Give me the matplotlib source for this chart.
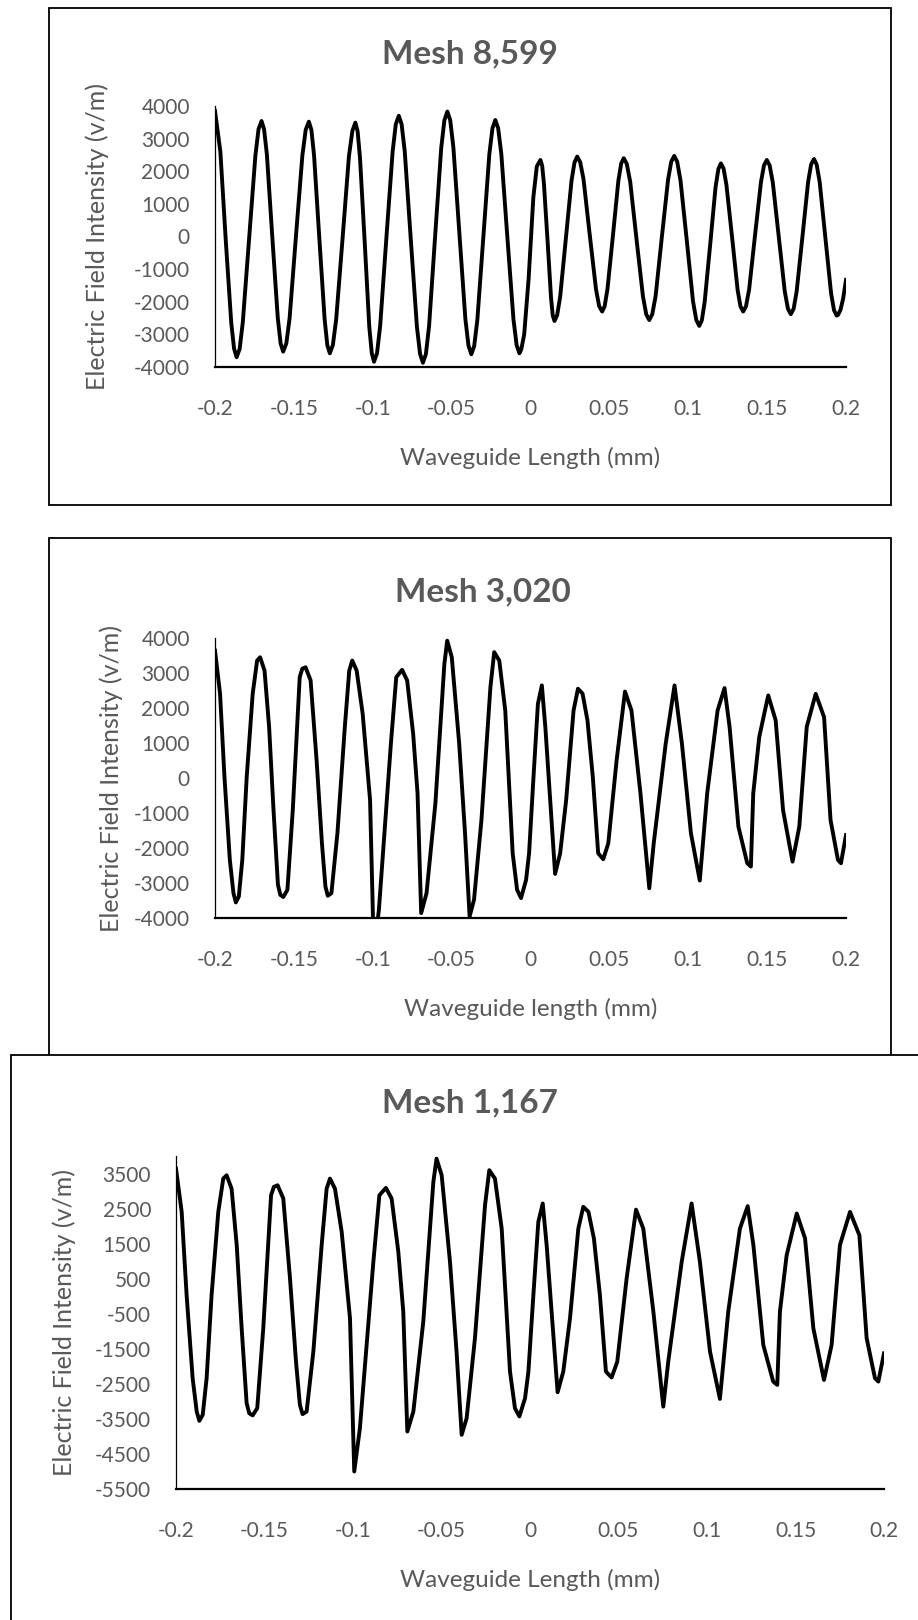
import matplotlib
matplotlib.use('Agg')
import matplotlib.pyplot as plt
from matplotlib.patches import Rectangle

# data (x in mm, field in v/m)
mesh_8599_x = [-0.2, -0.1966, -0.1932, -0.1897, -0.1879, -0.1863,
               -0.1844, -0.1824, -0.1784, -0.1744, -0.1724, -0.1705,
               -0.1689, -0.1671, -0.1637, -0.1602, -0.1584, -0.1568,
               -0.1548, -0.1527, -0.1487, -0.1446, -0.1425, -0.1405,
               -0.1389, -0.1372, -0.1339, -0.1305, -0.1288, -0.1272,
               -0.1253, -0.1232, -0.1191, -0.1151, -0.1129, -0.1110,
               -0.1096, -0.1081, -0.1051, -0.1022, -0.1006, -0.0992,
               -0.0973, -0.0953, -0.0914, -0.0874, -0.0854, -0.0835,
               -0.0817, -0.0797, -0.0759, -0.0720, -0.0700, -0.0682,
               -0.0663, -0.0643, -0.0605, -0.0566, -0.0546, -0.0527,
               -0.0509, -0.0489, -0.0451, -0.0413, -0.0393, -0.0375,
               -0.0357, -0.0337, -0.0299, -0.0261, -0.0241, -0.0223,
               -0.0205, -0.0185, -0.0147, -0.0108, -0.0088, -0.0070,
               -0.0058, -0.0040, -0.0012, 0.0018, 0.0040, 0.0063,
               0.0074, 0.0085, 0.0108, 0.0130, 0.0141, 0.0152,
               0.0169, 0.0188, 0.0224, 0.0260, 0.0279, 0.0296,
               0.0315, 0.0336, 0.0375, 0.0415, 0.0435, 0.0454,
               0.0470, 0.0488, 0.0523, 0.0557, 0.0575, 0.0591,
               0.0610, 0.0632, 0.0672, 0.0713, 0.0734, 0.0753,
               0.0772, 0.0793, 0.0832, 0.0872, 0.0892, 0.0911,
               0.0930, 0.0951, 0.0991, 0.1030, 0.1051, 0.1070,
               0.1086, 0.1104, 0.1139, 0.1173, 0.1191, 0.1207,
               0.1224, 0.1242, 0.1278, 0.1313, 0.1331, 0.1348,
               0.1366, 0.1386, 0.1423, 0.1461, 0.1480, 0.1498,
               0.1516, 0.1536, 0.1574, 0.1612, 0.1632, 0.1650,
               0.1668, 0.1687, 0.1724, 0.1760, 0.1779, 0.1797,
               0.1814, 0.1833, 0.1869, 0.1905, 0.1924, 0.1941,
               0.1950, 0.1965, 0.1982, 0.2]
mesh_8599_y = [3850, 2600, -100, -2650, -3440, -3700,
               -3450, -2640, -80, 2480, 3290, 3540,
               3290, 2510, 0, -2500, -3280, -3530,
               -3280, -2500, 0, 2490, 3270, 3520,
               3270, 2480, -30, -2540, -3330, -3580,
               -3330, -2550, -40, 2460, 3240, 3490,
               3230, 2420, -170, -2770, -3580, -3840,
               -3580, -2740, -70, 2600, 3440, 3700,
               3440, 2600, -80, -2770, -3600, -3870,
               -3600, -2750, -20, 2710, 3560, 3830,
               3570, 2740, 110, -2520, -3350, -3610,
               -3360, -2560, -20, 2520, 3320, 3570,
               3320, 2530, 0, -2540, -3330, -3580,
               -3450, -3000, -1300, 1200, 2150, 2345,
               2170, 1625, -120, -1870, -2420, -2590,
               -2410, -1850, -70, 1710, 2270, 2450,
               2280, 1760, 75, -1610, -2130, -2300,
               -2140, -1610, 50, 1710, 2240, 2400,
               2230, 1680, -80, -1840, -2390, -2560,
               -2380, -1830, -45, 1740, 2290, 2470,
               2290, 1710, -135, -1980, -2560, -2740,
               -2570, -2010, -250, 1510, 2070, 2240,
               2080, 1580, -30, -1640, -2140, -2300,
               -2140, -1620, 25, 1670, 2180, 2345,
               2180, 1655, -20, -1690, -2215, -2380,
               -2215, -1690, 0, 1680, 2210, 2375,
               2205, 1675, -25, -1725, -2260, -2425,
               -2400, -2250, -1900, -1330]

mesh_3020_x = [-0.2, -0.1968, -0.1940, -0.1906, -0.1883, -0.1868, -0.1849, -0.1827, -0.1799, -0.1761,
               -0.1733, -0.1714, -0.1686, -0.1657, -0.1629, -0.1601, -0.1586, -0.1567, -0.1541, -0.1507,
               -0.1463, -0.1447, -0.1426, -0.1394, -0.1356, -0.1322, -0.1300, -0.1285, -0.1262, -0.1224,
               -0.1177, -0.1149, -0.1130, -0.1102, -0.1064, -0.1017, -0.0993, -0.0961, -0.0923, -0.0885,
               -0.0851, -0.0814, -0.0782, -0.0744, -0.0716, -0.0693, -0.0659, -0.0603, -0.0546, -0.0528,
               -0.0499, -0.0452, -0.0415, -0.0386, -0.0358, -0.0311, -0.0254, -0.0230, -0.0198, -0.0160,
               -0.0113, -0.0085, -0.0060, -0.0028, -0.0009, 0.0019, 0.0047, 0.0072, 0.0094, 0.0122,
               0.0156, 0.0188, 0.0226, 0.0273, 0.0301, 0.0330, 0.0361, 0.0395, 0.0429, 0.0461,
               0.0493, 0.0546, 0.0599, 0.0640, 0.0697, 0.0753, 0.0781, 0.0857, 0.0913, 0.0960,
               0.1017, 0.1073, 0.1120, 0.1186, 0.1230, 0.1262, 0.1318, 0.1374, 0.1397, 0.1412,
               0.1450, 0.1507, 0.1554, 0.1601, 0.1661, 0.1704, 0.1751, 0.1808, 0.1861, 0.1902,
               0.1949, 0.1968, 0.2]
mesh_3020_y = [3640, 2410, 30, -2340, -3290, -3555, -3385, -2340, 30, 2410,
               3355, 3450, 3070, 1460, -920, -3050, -3340, -3400, -3195, -920,
               2880, 3120, 3165, 2790, 510, -1870, -3100, -3365, -3290, -1580,
               1460, 3070, 3355, 3070, 1840, -630, -5000, -3765, -1390, 980,
               2880, 3090, 2790, 1270, -440, -3860, -3290, -730, 3260, 3925,
               3450, 980, -1580, -3955, -3480, -1200, 2600, 3595, 3355, 1930,
               -2150, -3195, -3430, -2910, -2150, 30, 2120, 2645, 1460, -440,
               -2740, -2150, -630, 1930, 2550, 2410, 1650, 30, -2150, -2320,
               -1870, 510, 2470, 1930, -440, -3150, -1870, 980, 2645, 980,
               -1580, -2930, -440, 1930, 2570, 1460, -1390, -2435, -2530, -440,
               1170, 2360, 1650, -920, -2390, -1390, 1460, 2405, 1740, -1200,
               -2340, -2435, -1630]

# the 1,167 panel shows the same trace as the 3,020 panel in the source figure
mesh_1167_x = list(mesh_3020_x)
mesh_1167_y = list(mesh_3020_y)

x_ticks = [-0.2, -0.15, -0.1, -0.05, 0, 0.05, 0.1, 0.15, 0.2]
x_tick_labels = ['-0.2', '-0.15', '-0.1', '-0.05', '0', '0.05', '0.1', '0.15', '0.2']
y_ticks_a = [-4000, -3000, -2000, -1000, 0, 1000, 2000, 3000, 4000]
y_ticks_b = [-5500, -4500, -3500, -2500, -1500, -500, 500, 1500, 2500, 3500]

titles = ['Mesh 8,599', 'Mesh 3,020', 'Mesh 1,167']
x_labels = ['Waveguide Length (mm)', 'Waveguide length (mm)', 'Waveguide Length (mm)']
y_label = 'Electric Field Intensity (v/m)'

plt.rcParams['font.family'] = ['Lato', 'DejaVu Sans']
GREY = '#595959'
W, H = 918, 1620

fig = plt.figure(figsize=(W / 100, H / 100), dpi=100)


def fx(px):
    return px / W


def fy(py):
    return 1 - py / H


# pixel layout: box (x0, y0, x1, y1), plot area (l, t, r, b), title (cx, baseline), ylabel x
panels = [
    dict(box=(49, 8, 891, 505), area=(215, 106, 846, 367), title=(470, 63), ylab=97,
         ylim=(-4000, 4000), yt=y_ticks_a, x=mesh_8599_x, y=mesh_8599_y),
    dict(box=(49, 538, 891, 1100), area=(215, 638, 846, 918), title=(483, 601), ylab=111,
         ylim=(-4000, 4000), yt=y_ticks_a, x=mesh_3020_x, y=mesh_3020_y),
    dict(box=(10.5, 1055, 1000, 1700), area=(176, 1156, 884, 1489), title=(470, 1112), ylab=64,
         ylim=(-5500, 4000), yt=y_ticks_b, x=mesh_1167_x, y=mesh_1167_y),
]

for i, p in enumerate(panels):
    z = 1 + 2 * i
    x0, y0, x1, y1 = p['box']
    box = Rectangle((fx(x0), fy(y1)), (x1 - x0) / W, (y1 - y0) / H, transform=fig.transFigure,
                    facecolor='white', edgecolor='black', linewidth=1.3, zorder=z)
    fig.add_artist(box)

    l, t, r, b = p['area']
    ax = fig.add_axes([fx(l), fy(b), (r - l) / W, (b - t) / H], zorder=z + 1)
    ax.set_facecolor('none')
    ax.plot(p['x'], p['y'], color='black', linewidth=2.8, solid_joinstyle='round')
    ax.set_xlim(-0.2, 0.2)
    ax.set_ylim(*p['ylim'])
    ax.set_xticks(x_ticks)
    ax.set_xticklabels(x_tick_labels)
    ax.set_yticks(p['yt'])
    ax.set_yticklabels([str(v) for v in p['yt']])
    for s in ['top', 'right']:
        ax.spines[s].set_visible(False)
    ax.spines['left'].set_linewidth(0.9)
    ax.spines['bottom'].set_linewidth(1.6)
    ax.tick_params(axis='both', length=0, labelsize=15, labelcolor=GREY)
    ax.tick_params(axis='y', pad=18)
    ax.tick_params(axis='x', pad=23)

    ax.set_xlabel(x_labels[i], fontsize=17.5, color=GREY, va='center')
    ax.xaxis.set_label_coords(0.5, -91 / (b - t))
    ax.set_ylabel(y_label, fontsize=18, color=GREY, va='center')
    ax.yaxis.set_label_coords((p['ylab'] - l) / (r - l), 0.5)

    tx, ty = p['title']
    fig.text(fx(tx), fy(ty), titles[i], fontsize=24, fontweight='bold', color=GREY,
             ha='center', va='baseline', zorder=z + 1)

fig.savefig('out.png', dpi=100)
